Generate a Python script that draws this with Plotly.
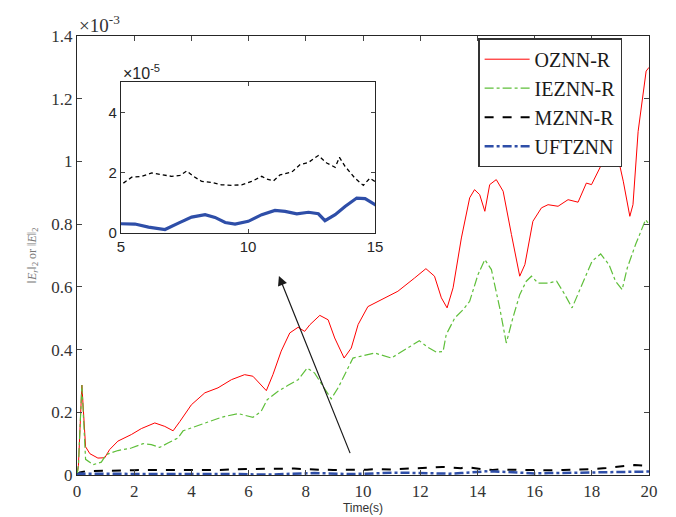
import plotly.graph_objects as go

# ---------------- data (main axis values in units of 1e-3) ----------------
t_oznn = [0.0, 0.05, 0.17, 0.3, 0.45, 0.73, 0.97, 1.14, 1.43, 1.9, 2.25, 2.72, 3.07, 3.36, 3.6,
          4.0, 4.47, 4.93, 5.4, 5.86, 6.15, 6.62, 6.85, 7.14, 7.44, 7.73, 7.96, 8.14, 8.49,
          8.78, 9.01, 9.34, 9.59, 9.83, 10.17, 10.64, 11.22, 11.8, 12.2, 12.5, 12.74, 12.94,
          13.15, 13.44, 13.73, 13.9, 14.08, 14.26, 14.43, 14.66, 14.9, 15.19, 15.48, 15.66,
          15.94, 16.24, 16.47, 16.82, 17.17, 17.52, 17.81, 17.99, 18.34, 18.69, 18.92, 19.1,
          19.33, 19.44, 19.62, 19.9, 20.0]
oznn = [0.0, 0.03, 0.287, 0.09, 0.068, 0.054, 0.055, 0.081, 0.108, 0.129, 0.148, 0.166, 0.155,
        0.141, 0.171, 0.224, 0.262, 0.278, 0.304, 0.32, 0.315, 0.269, 0.32, 0.395, 0.453, 0.471,
        0.458, 0.479, 0.509, 0.495, 0.437, 0.373, 0.405, 0.48, 0.537, 0.559, 0.586, 0.628, 0.658,
        0.634, 0.565, 0.533, 0.597, 0.756, 0.884, 0.91, 0.894, 0.841, 0.926, 0.942, 0.905, 0.767,
        0.634, 0.671, 0.809, 0.852, 0.862, 0.857, 0.878, 0.87, 0.931, 0.926, 0.99, 1.045, 1.011,
        0.937, 0.825, 0.862, 1.096, 1.288, 1.30]

t_ieznn = [0.0, 0.05, 0.17, 0.3, 0.56, 0.85, 1.02, 1.43, 1.9, 2.31, 2.6, 2.89, 3.18, 3.53, 3.71,
           4.12, 4.58, 5.05, 5.63, 6.15, 6.44, 6.65, 7.03, 7.38, 7.73, 8.05, 8.31, 8.6, 8.89,
           9.13, 9.48, 9.65, 9.94, 10.41, 10.99, 11.45, 11.97, 12.27, 12.56, 12.8, 12.91, 13.21,
           13.5, 13.73, 14.02, 14.26, 14.49, 14.78, 15.01, 15.24, 15.48, 15.71, 15.89, 16.12,
           16.47, 16.77, 17.06, 17.31, 17.66, 18.01, 18.31, 18.6, 18.83, 19.06, 19.24, 19.53,
           19.88, 20.0]
ieznn = [0.0, 0.03, 0.287, 0.05, 0.033, 0.041, 0.065, 0.078, 0.086, 0.1, 0.097, 0.088, 0.102,
         0.118, 0.141, 0.155, 0.169, 0.184, 0.196, 0.184, 0.203, 0.24, 0.267, 0.286, 0.304,
         0.341, 0.325, 0.283, 0.243, 0.278, 0.341, 0.373, 0.379, 0.389, 0.373, 0.4, 0.428, 0.407,
         0.392, 0.394, 0.448, 0.501, 0.527, 0.554, 0.639, 0.687, 0.655, 0.533, 0.421, 0.501,
         0.575, 0.618, 0.634, 0.612, 0.612, 0.618, 0.575, 0.533, 0.607, 0.682, 0.705, 0.671,
         0.618, 0.591, 0.66, 0.735, 0.814, 0.80]

# MZNN-R and UFTZNN in units of 1e-5
t_mznn = [0.0, 0.1, 0.3, 0.6, 1.0, 1.5, 2.0, 2.5, 3.0, 3.5, 4.0, 4.5, 5.0, 5.42, 5.81, 6.21, 6.6,
          6.99, 7.32, 7.59, 7.85, 8.18, 8.57, 8.96, 9.36, 9.75, 10.14, 10.54, 10.73, 11.0, 11.26,
          11.72, 12.05, 12.38, 12.77, 13.1, 13.43, 13.6, 13.82, 14.21, 14.54, 14.8, 15.0, 15.5,
          16.0, 16.5, 17.0, 17.5, 18.0, 18.5, 19.0, 19.5, 19.8, 20.0]
mznn = [0.0, 0.8, 1.2, 1.3, 1.4, 1.5, 1.55, 1.6, 1.6, 1.65, 1.7, 1.65, 1.6, 1.85, 1.88, 1.99,
        1.93, 1.88, 1.91, 2.06, 1.88, 1.71, 1.68, 1.6, 1.58, 1.6, 1.71, 1.88, 1.79, 1.73, 1.93,
        2.02, 2.27, 2.34, 2.57, 2.32, 2.18, 2.51, 2.21, 1.82, 1.58, 1.82, 1.71, 1.6, 1.45, 1.5,
        1.6, 1.7, 1.9, 2.2, 2.7, 3.2, 3.0, 2.3]

t_uft = [0.0, 0.1, 0.3, 1.0, 2.0, 3.0, 4.0, 4.5, 5.0, 5.55, 6.08, 6.73, 7.26, 7.78, 8.31, 8.7,
         9.1, 9.49, 10.01, 10.54, 11.06, 11.46, 11.92, 12.38, 12.77, 13.03, 13.43, 13.82, 14.28,
         14.61, 15.0, 15.5, 16.0, 16.5, 17.0, 17.5, 18.0, 18.5, 19.0, 19.5, 20.0]
uft = [0.0, 0.5, 0.4, 0.3, 0.35, 0.3, 0.35, 0.3, 0.31, 0.3, 0.2, 0.12, 0.33, 0.53, 0.61, 0.52,
       0.35, 0.3, 0.39, 0.61, 0.75, 0.72, 0.64, 0.69, 0.64, 0.41, 0.61, 0.88, 1.16, 1.14, 0.94,
       0.7, 0.5, 0.6, 0.7, 0.8, 0.9, 1.0, 0.9, 1.0, 1.1]

x_ticks = [0, 2, 4, 6, 8, 10, 12, 14, 16, 18, 20]
y_ticks = [0, 0.2, 0.4, 0.6, 0.8, 1.0, 1.2, 1.4]
y_tick_text = ["0", "0.2", "0.4", "0.6", "0.8", "1", "1.2", "1.4"]

# ---------------- styles ----------------
RED = "#ff0000"
GREEN = "#5fbf3a"
BLACK = "#000000"
BLUE = "#2e4ea8"
AX = "#262626"
SERIF = "Liberation Serif"
SANS = "Liberation Sans"

fig = go.Figure()

fig.add_trace(go.Scatter(x=t_oznn, y=oznn, mode="lines", name="OZNN-R",
                         line=dict(color=RED, width=1)))
fig.add_trace(go.Scatter(x=t_ieznn, y=ieznn, mode="lines", name="IEZNN-R",
                         line=dict(color=GREEN, width=1.2, dash="dashdot")))
fig.add_trace(go.Scatter(x=t_mznn, y=[v / 100 for v in mznn], mode="lines", name="MZNN-R",
                         line=dict(color=BLACK, width=2, dash="dash")))
fig.add_trace(go.Scatter(x=t_uft, y=[v / 100 for v in uft], mode="lines", name="UFTZNN",
                         line=dict(color=BLUE, width=2.5, dash="dashdot")))

# inset
fig.add_trace(go.Scatter(x=t_mznn, y=mznn, mode="lines", showlegend=False,
                         xaxis="x2", yaxis="y2",
                         line=dict(color=BLACK, width=1.3, dash="4px,3px")))
fig.add_trace(go.Scatter(x=t_uft, y=uft, mode="lines", showlegend=False,
                         xaxis="x2", yaxis="y2",
                         line=dict(color=BLUE, width=3.2)))

fig.update_layout(
    width=676, height=517,
    margin=dict(l=69, r=35, t=28, b=50),
    paper_bgcolor="white", plot_bgcolor="white",
    showlegend=True,
    legend=dict(x=0.953, y=0.995, xanchor="right", yanchor="top",
                bgcolor="white", bordercolor="#333333", borderwidth=1.5,
                font=dict(family=SERIF, size=20, color="#1a1a1a"),
                tracegroupgap=0, itemwidth=45),
    xaxis=dict(range=[0, 20], tickvals=x_ticks, ticks="inside", ticklen=5,
               showline=True, linecolor=AX, linewidth=1.2, mirror="ticks",
               showgrid=False, zeroline=False,
               tickfont=dict(family=SERIF, size=17, color="#333333"),
               title=dict(text="Time(s)", standoff=4,
                          font=dict(family="Liberation Sans Narrow, Liberation Sans",
                                    size=12, color="#333333"))),
    yaxis=dict(range=[0, 1.4], tickvals=y_ticks, ticktext=y_tick_text, ticks="inside", ticklen=5,
               showline=True, linecolor=AX, linewidth=1.2, mirror="ticks",
               showgrid=False, zeroline=False,
               tickfont=dict(family=SERIF, size=17, color="#333333"),
               title=dict(text="\u2016<i>E<sub>r</sub></i>\u2016<sub>2</sub> or \u2016<i>E</i>\u2016<sub>2</sub>",
                          standoff=12,
                          font=dict(family=SERIF, size=12, color="#777777"))),
    xaxis2=dict(domain=[0.077, 0.521], anchor="y2", range=[5, 15], tickvals=[5, 10, 15],
                ticks="inside", ticklen=4, showline=True, linecolor=AX, linewidth=1.2,
                mirror="ticks", showgrid=False, zeroline=False,
                tickfont=dict(family=SANS, size=15, color="#262626")),
    yaxis2=dict(domain=[0.551, 0.895], anchor="x2", range=[0, 5], tickvals=[0, 2, 4],
                ticks="inside", ticklen=4, showline=True, linecolor=AX, linewidth=1.2,
                mirror="ticks", showgrid=False, zeroline=False,
                tickfont=dict(family=SANS, size=15, color="#262626")),
)

fig.add_shape(type="rect", xref="x2 domain", yref="y2 domain", x0=0, x1=1, y0=0, y1=1,
              fillcolor="white", line=dict(width=0), layer="below")

# exponent labels
fig.add_annotation(xref="paper", yref="paper", x=0.0, y=1.0, xanchor="left", yanchor="bottom",
                   text="\u00d710<sup>-3</sup>", showarrow=False, yshift=-2,
                   font=dict(family=SERIF, size=19, color="#333333"))
fig.add_annotation(xref="x2 domain", yref="y2 domain", x=0.0, y=1.0, xanchor="left",
                   yanchor="bottom", text="\u00d710<sup>-5</sup>", showarrow=False, yshift=-2,
                   font=dict(family=SANS, size=16, color="#262626"))

# arrow
fig.add_annotation(x=7.06, y=0.635, ax=9.57, ay=0.065, xref="x", yref="y", axref="x", ayref="y",
                   text="", showarrow=True, arrowhead=2, arrowsize=1.6, arrowwidth=1.2,
                   arrowcolor="#1a1a1a")

fig.write_html("out.html")
